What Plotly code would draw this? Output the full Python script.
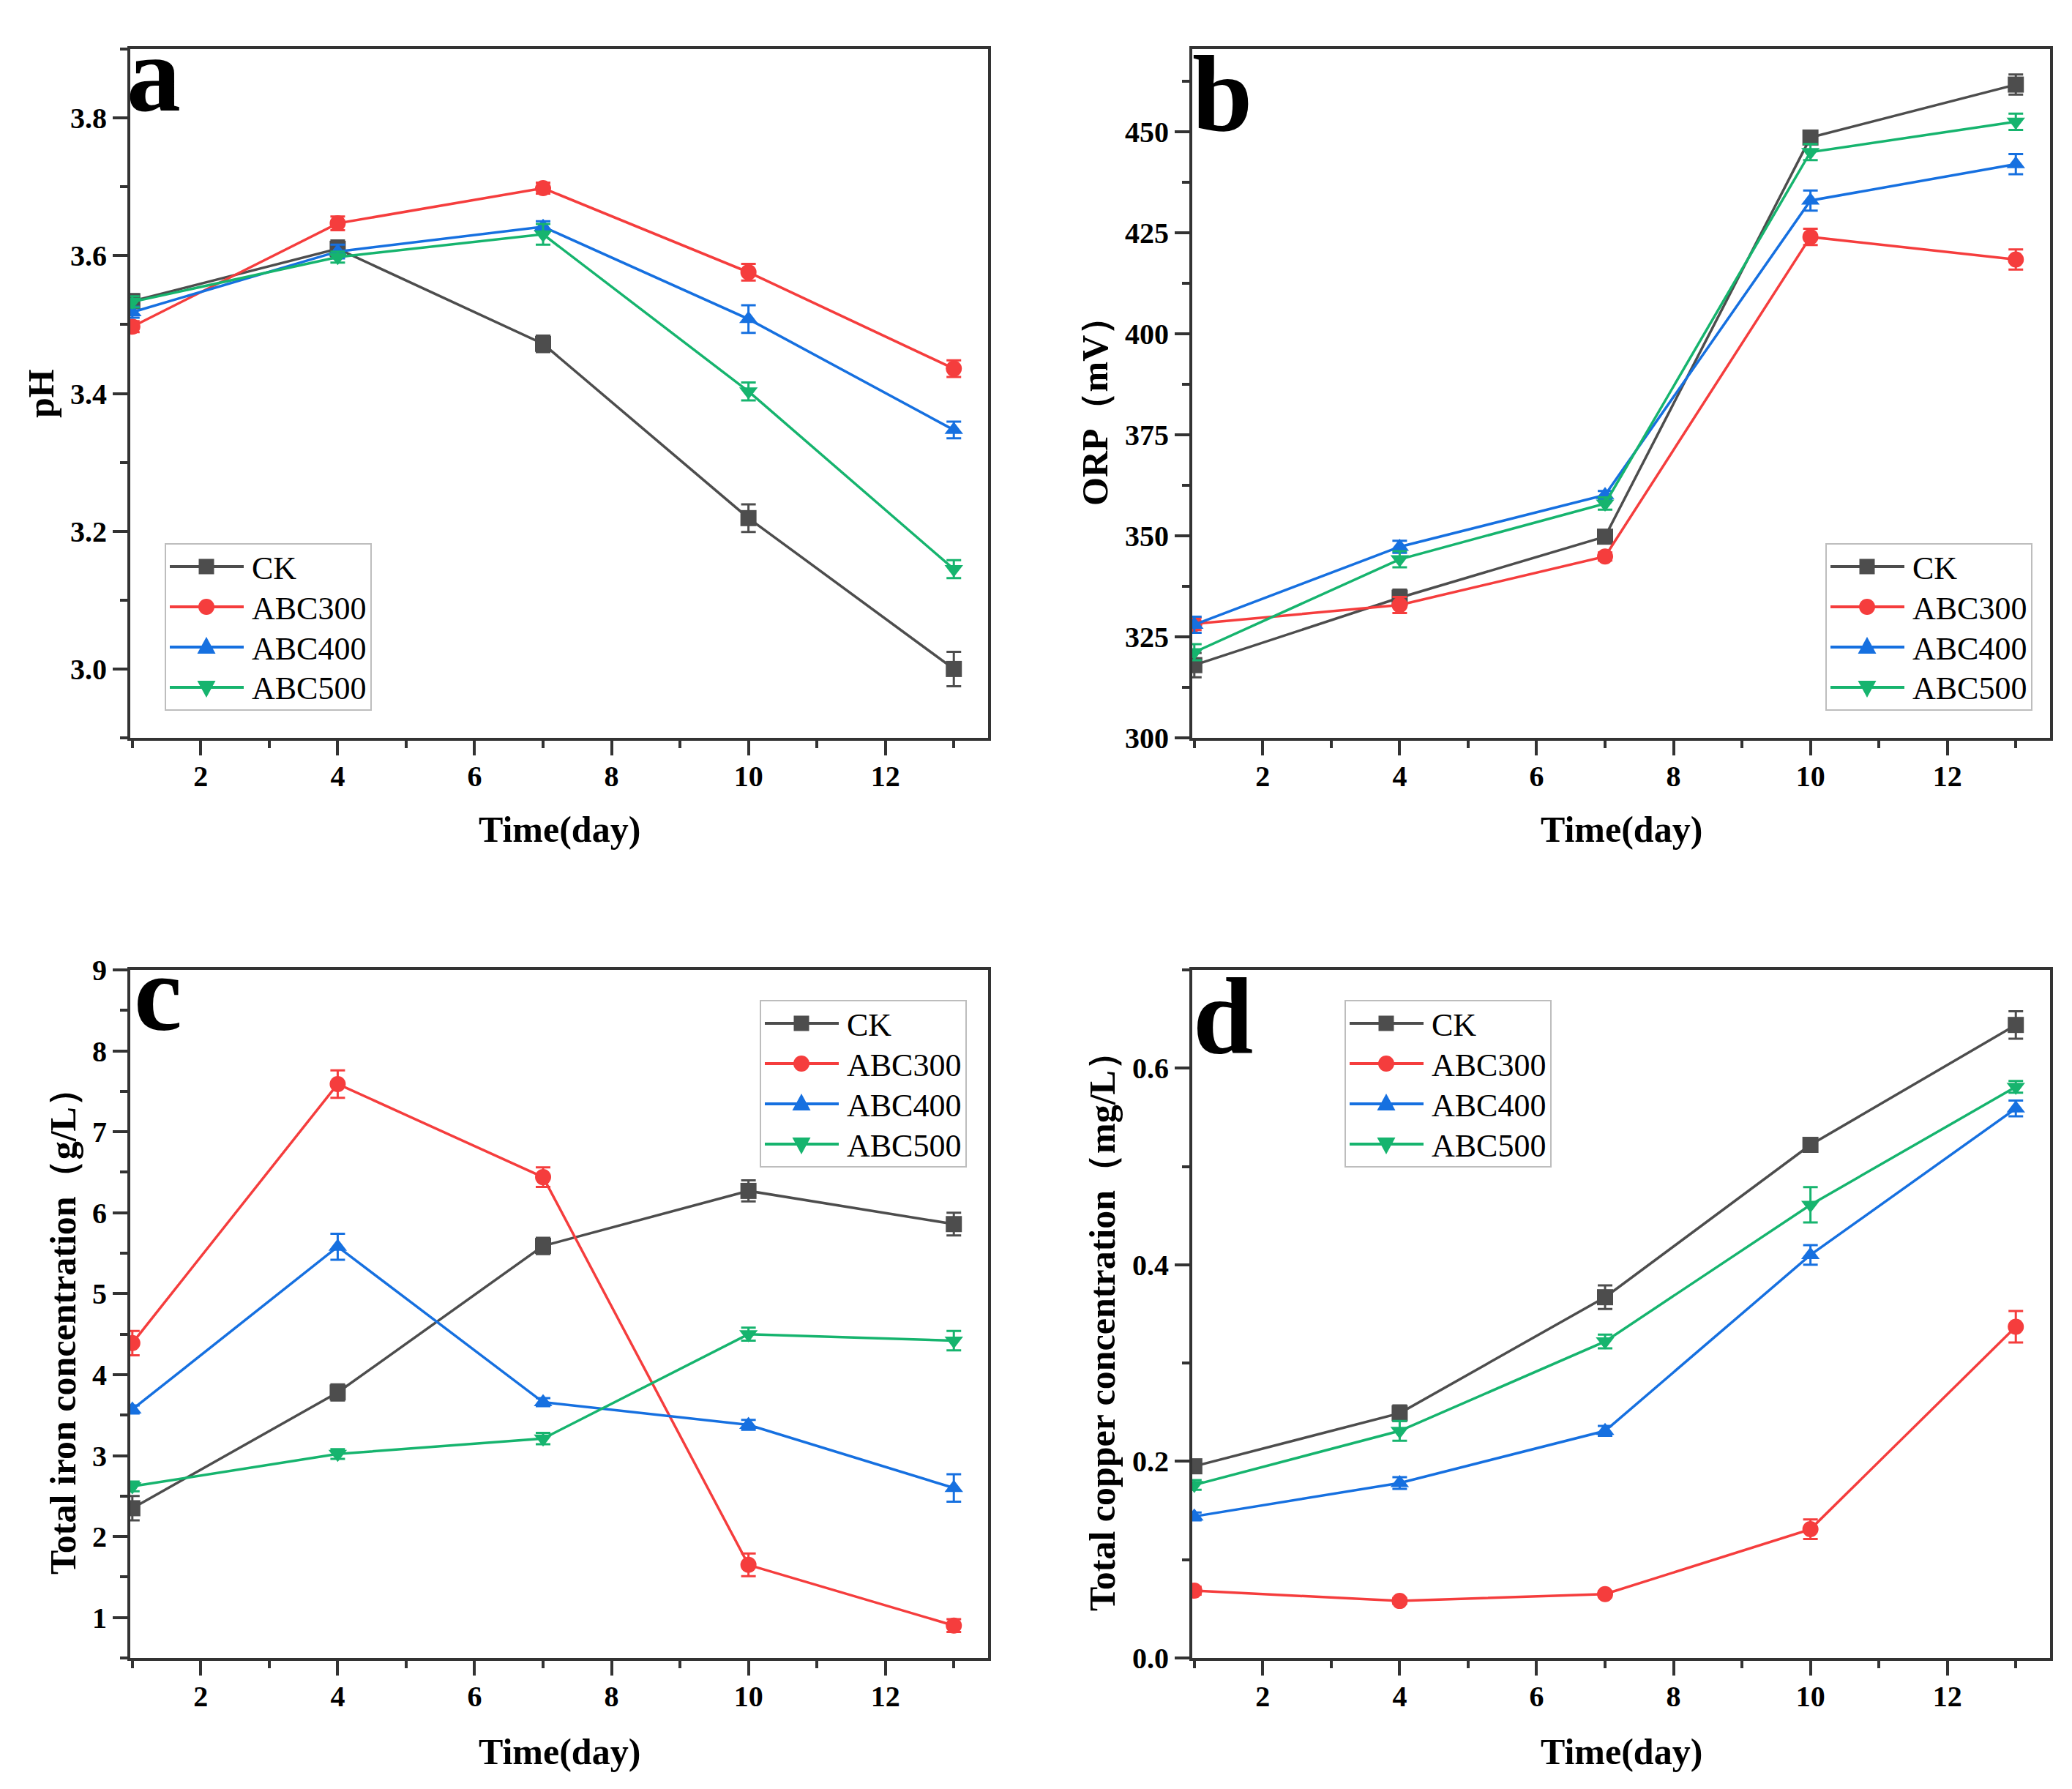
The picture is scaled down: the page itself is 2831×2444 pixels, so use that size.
import plotly.graph_objects as go
from plotly.subplots import make_subplots

days = [1, 4, 7, 10, 13]
groups = ["CK", "ABC300", "ABC400", "ABC500"]
colors = ["#4d4d4d", "#f53d3d", "#1670e0", "#16b46e"]
symbols = ["square", "circle", "triangle-up", "triangle-down"]

# panel a: pH
ph_mean = [
    [3.534, 3.610, 3.472, 3.219, 3.000],
    [3.497, 3.647, 3.698, 3.576, 3.436],
    [3.518, 3.606, 3.642, 3.508, 3.347],
    [3.533, 3.598, 3.631, 3.403, 3.145],
]
ph_err = [
    [0.010, 0.012, 0.012, 0.020, 0.025],
    [0.008, 0.010, 0.008, 0.012, 0.012],
    [0.008, 0.010, 0.008, 0.020, 0.012],
    [0.008, 0.008, 0.015, 0.013, 0.013],
]

# panel b: ORP (mV)
orp_mean = [
    [318.0, 334.7, 349.8, 448.6, 461.7],
    [328.2, 332.9, 344.9, 424.0, 418.4],
    [328.0, 347.3, 360.1, 433.0, 442.0],
    [321.2, 344.2, 358.0, 445.0, 452.5],
]
orp_err = [
    [3.0, 2.0, 1.5, 1.5, 2.5],
    [1.5, 2.0, 1.0, 2.0, 2.5],
    [2.0, 1.5, 1.0, 2.5, 2.5],
    [2.0, 2.0, 1.5, 2.0, 2.0],
]

# panel c: total iron (g/L)
fe_mean = [
    [2.35, 3.78, 5.59, 6.27, 5.86],
    [4.39, 7.59, 6.44, 1.65, 0.90],
    [3.57, 5.58, 3.66, 3.38, 2.60],
    [2.62, 3.02, 3.21, 4.50, 4.42],
]
fe_err = [
    [0.15, 0.10, 0.10, 0.13, 0.14],
    [0.15, 0.17, 0.12, 0.14, 0.08],
    [0.05, 0.16, 0.05, 0.06, 0.17],
    [0.06, 0.06, 0.07, 0.08, 0.12],
]

# panel d: total copper (mg/L)
cu_mean = [
    [0.195, 0.249, 0.367, 0.522, 0.644],
    [0.0685, 0.058, 0.065, 0.131, 0.337],
    [0.144, 0.178, 0.231, 0.410, 0.559],
    [0.176, 0.231, 0.322, 0.461, 0.581],
]
cu_err = [
    [0.005, 0.008, 0.012, 0.006, 0.014],
    [0.004, 0.003, 0.003, 0.010, 0.016],
    [0.004, 0.006, 0.005, 0.010, 0.008],
    [0.005, 0.010, 0.007, 0.018, 0.006],
]

W, H = 2831, 2444
FONT = "Liberation Serif"


def px(x):
    return x / W


def py(y):
    return 1 - y / H


fig = make_subplots(rows=2, cols=2)

panels = [
    (1, 1, ph_mean, ph_err),
    (1, 2, orp_mean, orp_err),
    (2, 1, fe_mean, fe_err),
    (2, 2, cu_mean, cu_err),
]

for row, col, means, errs in panels:
    for i, name in enumerate(groups):
        fig.add_trace(go.Scatter(
            x=days, y=means[i], name=name, mode="lines+markers",
            line=dict(color=colors[i], width=3.5),
            marker=dict(symbol=symbols[i], size=22, color=colors[i]),
            error_y=dict(type="data", array=errs[i], visible=True,
                         color=colors[i], thickness=3, width=10),
            showlegend=False,
        ), row=row, col=col)

xdom_l = [px(170), px(1342)]
xdom_r = [px(1621), px(2793)]
ydom_t = [py(1000), py(59)]
ydom_b = [py(2257), py(1317)]

axis_common = dict(
    showline=True, linecolor="#333333", linewidth=4, mirror=True,
    ticks="outside", ticklen=20, tickwidth=4, tickcolor="#333333",
    showgrid=False, zeroline=False, automargin=False,
    tickfont=dict(family=FONT, size=40, color="black", weight="bold"),
)


def minor(step):
    return dict(ticks="outside", ticklen=10, tickwidth=4,
                tickcolor="#333333", dtick=step)


xaxis_common = dict(axis_common, range=[0.97, 13.5], tick0=0, dtick=2,
                    ticklabelstandoff=-6,
                    minor=dict(minor(1), tick0=1))
yaxis_common = dict(axis_common, ticklabelstandoff=0)

fig.update_layout(
    xaxis=dict(xaxis_common, domain=xdom_l, anchor="y"),
    xaxis2=dict(xaxis_common, domain=xdom_r, anchor="y2"),
    xaxis3=dict(xaxis_common, domain=xdom_l, anchor="y3"),
    xaxis4=dict(xaxis_common, domain=xdom_r, anchor="y4"),
    yaxis=dict(yaxis_common, domain=ydom_t, anchor="x", range=[2.9, 3.9],
               tick0=3.0, dtick=0.2, tickformat=".1f", minor=minor(0.1)),
    yaxis2=dict(yaxis_common, domain=ydom_t, anchor="x2", range=[300, 470.5],
                tick0=300, dtick=25, minor=minor(12.5)),
    yaxis3=dict(yaxis_common, domain=ydom_b, anchor="x3", range=[0.5, 9],
                tick0=1, dtick=1, minor=minor(0.5)),
    yaxis4=dict(yaxis_common, domain=ydom_b, anchor="x4", range=[0, 0.7],
                tick0=0, dtick=0.2, tickformat=".1f", minor=minor(0.1)),
)

# hand-drawn legends (Origin style: long line sample with a big marker)
legend_origins = [(218, 735), (2487, 735), (1031, 1359), (1830, 1359)]
LEG_W, LEG_H = 281, 227
row_offsets = [31, 86, 141, 196]

shapes = []
annotations = []
legend_font = dict(family=FONT, size=44, color="black")

for lx, ly in legend_origins:
    shapes.append(dict(type="rect", xref="paper", yref="paper",
                       x0=px(lx), x1=px(lx + LEG_W), y0=py(ly + LEG_H), y1=py(ly),
                       line=dict(color="#bdbdbd", width=2), fillcolor="white",
                       layer="above"))
for lx, ly in legend_origins:
    for i, name in enumerate(groups):
        cy = ly + row_offsets[i]
        cx = lx + 56
        shapes.append(dict(type="line", xref="paper", yref="paper",
                           x0=px(lx + 6), x1=px(lx + 107), y0=py(cy), y1=py(cy),
                           line=dict(color=colors[i], width=4), layer="above"))
        sym = symbols[i]
        mk = dict(xref="paper", yref="paper", fillcolor=colors[i],
                  line=dict(color=colors[i], width=0), layer="above")
        if sym == "square":
            shapes.append(dict(mk, type="rect", x0=px(cx - 10.5), x1=px(cx + 10.5),
                               y0=py(cy + 10.5), y1=py(cy - 10.5)))
        elif sym == "circle":
            shapes.append(dict(mk, type="circle", x0=px(cx - 11), x1=px(cx + 11),
                               y0=py(cy + 11), y1=py(cy - 11)))
        elif sym == "triangle-up":
            path = "M{},{} L{},{} L{},{} Z".format(
                px(cx - 12.5), py(cy + 9), px(cx + 12.5), py(cy + 9), px(cx), py(cy - 14))
            shapes.append(dict(mk, type="path", path=path))
        else:
            path = "M{},{} L{},{} L{},{} Z".format(
                px(cx - 12.5), py(cy - 9), px(cx + 12.5), py(cy - 9), px(cx), py(cy + 14))
            shapes.append(dict(mk, type="path", path=path))
        annotations.append(dict(text=name, x=px(lx + 116), y=py(cy + 2),
                                xref="paper", yref="paper", showarrow=False,
                                xanchor="left", yanchor="middle", font=legend_font))

title_font = dict(family=FONT, size=50, color="black", weight="bold")
letter_font = dict(family=FONT, size=148, color="black", weight="bold")

titles = [
    dict(text="Time(day)", x=px(756), y=py(1125)),
    dict(text="Time(day)", x=px(2207), y=py(1125)),
    dict(text="Time(day)", x=px(756), y=py(2385)),
    dict(text="Time(day)", x=px(2207), y=py(2385)),
    dict(text="pH", x=px(48), y=py(530), textangle=-90),
    dict(text="ORP（mV）", x=px(1488), y=py(542), textangle=-90),
    dict(text="Total iron concentration（g/L）", x=px(78), y=py(1799),
         textangle=-90),
    dict(text="Total copper concentration（mg/L）", x=px(1498), y=py(1799),
         textangle=-90),
]
for t in titles:
    t.update(xref="paper", yref="paper", showarrow=False, font=title_font,
             xanchor="center", yanchor="middle")
annotations.extend(titles)

letters = [("a", 163, 145), ("b", 1619, 172), ("c", 173, 1401), ("d", 1620, 1432)]
for txt, lx, base in letters:
    annotations.append(dict(
        text=txt, x=px(lx), y=py(base + 32), xref="paper", yref="paper",
        showarrow=False, xanchor="left", yanchor="bottom", font=letter_font,
    ))

fig.update_layout(
    shapes=shapes,
    annotations=annotations,
    width=W, height=H,
    margin=dict(l=0, r=0, t=0, b=0),
    paper_bgcolor="white", plot_bgcolor="white",
    showlegend=False,
)

fig.write_html("out.html")
